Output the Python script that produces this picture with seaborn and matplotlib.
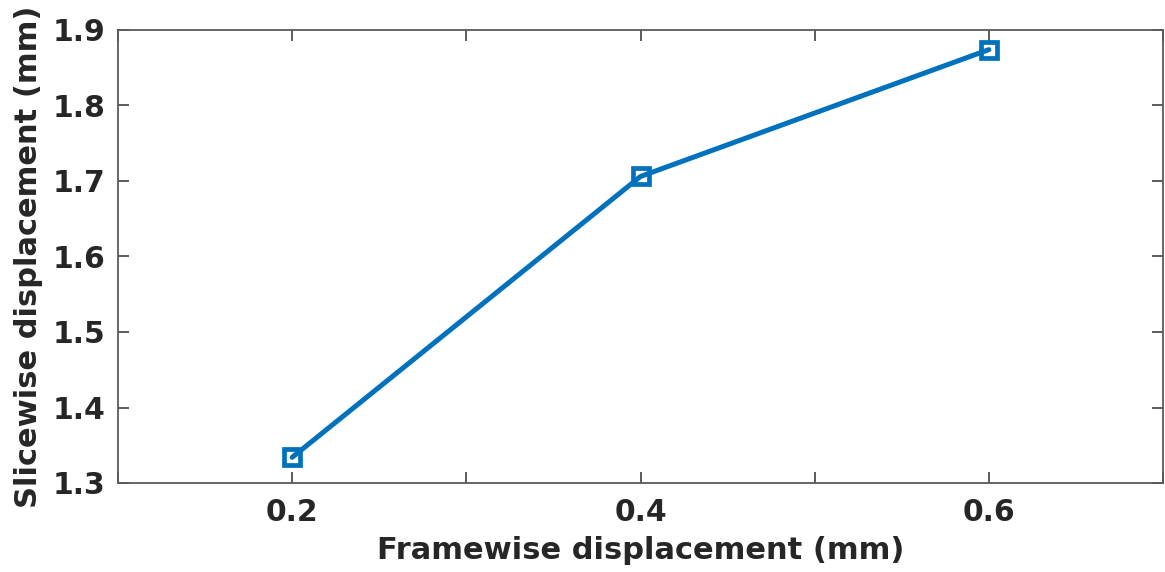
import matplotlib
matplotlib.use("Agg")
import matplotlib.pyplot as plt
import seaborn as sns
import pandas as pd

# Framewise vs slicewise displacement (mm)
framewise = [0.2, 0.4, 0.6]
slicewise = [1.334, 1.706, 1.874]
x_ticks = [0.2, 0.4, 0.6]
x_minor = [0.1, 0.3, 0.5, 0.7]
y_ticks = [1.3, 1.4, 1.5, 1.6, 1.7, 1.8, 1.9]

sns.set_theme(style="white")
plt.rcParams["font.family"] = ["DejaVu Sans"]

df = pd.DataFrame({"fd": framewise, "sd": slicewise})

fig = plt.figure(figsize=(11.65, 5.72), dpi=100)
ax = fig.add_axes([118 / 1165, 1 - 483 / 572, (1163 - 118) / 1165, (483 - 30) / 572])

line_color = "#0072BD"
sns.lineplot(data=df, x="fd", y="sd", ax=ax, color=line_color, linewidth=3.6,
             marker="s", markersize=11, markerfacecolor="none",
             markeredgecolor=line_color, markeredgewidth=3.4)

ax.set_xlim(0.1, 0.7)
ax.set_ylim(1.3, 1.9)
ax.set_xticks(x_ticks)
ax.set_xticklabels([f"{v:.1f}" for v in x_ticks])
ax.set_xticks(x_minor, minor=True)
ax.set_yticks(y_ticks)
ax.set_yticklabels([f"{v:.1f}" for v in y_ticks])

ax.set_xlabel("Framewise displacement (mm)", fontsize=22, fontweight="bold",
              color="#262626", labelpad=6)
ax.set_ylabel("Slicewise displacement (mm)", fontsize=22, fontweight="bold",
              color="#262626", labelpad=7)

ax.tick_params(axis="both", which="both", direction="in", top=True, right=True,
               bottom=True, left=True, color="#404040", width=1.2)
ax.tick_params(axis="both", which="major", length=8, labelsize=21.5, labelcolor="#262626")
ax.tick_params(axis="x", which="major", pad=11)
ax.tick_params(axis="y", which="major", pad=9)
ax.tick_params(axis="x", which="minor", length=8)
for lbl in ax.get_xticklabels() + ax.get_yticklabels():
    lbl.set_fontweight("bold")

for sp in ax.spines.values():
    sp.set_visible(True)
    sp.set_color("#5a5a5a")
    sp.set_linewidth(1.3)

ax.grid(False)
fig.savefig("out.png", dpi=100, facecolor="white")
